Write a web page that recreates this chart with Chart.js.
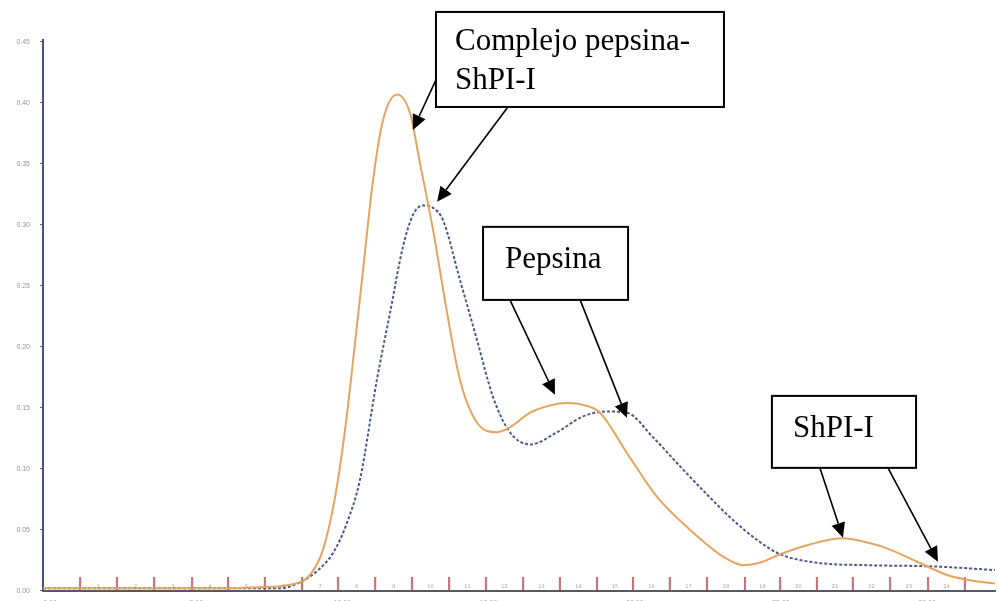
<!DOCTYPE html>
<html>
<head>
<meta charset="utf-8">
<script src="https://cdn.jsdelivr.net/npm/chart.js@4.4.1/dist/chart.umd.min.js"></script>
<style>
  html, body { margin: 0; padding: 0; background: #fff; overflow: hidden; }
  canvas { display: block; }
</style>
</head>
<body>
<canvas id="chartElu" width="999" height="605"></canvas>
<script>
// elution profile
const complexX = [-0.24, 5.13, 7.18, 8.21, 8.89, 9.34, 9.75, 10.09, 10.33, 10.67, 11.05, 11.39, 11.87, 12.31, 12.65, 13.10, 13.58, 14.02, 14.60, 15.29, 15.73, 16.42, 17.10, 17.68, 18.30, 18.81, 19.73, 20.76, 21.89, 23.02, 23.70, 24.28, 24.97, 25.99, 27.12, 27.87, 28.49, 29.65, 30.68, 31.63, 32.32];
const complexY = [0.002, 0.002, 0.003, 0.005, 0.013, 0.034, 0.077, 0.132, 0.181, 0.255, 0.337, 0.386, 0.407, 0.392, 0.351, 0.296, 0.228, 0.173, 0.138, 0.130, 0.134, 0.146, 0.152, 0.154, 0.152, 0.146, 0.113, 0.077, 0.050, 0.028, 0.021, 0.023, 0.030, 0.038, 0.043, 0.040, 0.036, 0.024, 0.013, 0.008, 0.006];

const pepsinX = [-0.24, 6.84, 7.87, 8.55, 9.17, 9.68, 10.16, 10.60, 11.18, 11.63, 12.07, 12.41, 12.76, 13.10, 13.44, 14.02, 14.60, 15.15, 15.73, 16.42, 17.34, 18.23, 19.05, 19.73, 20.62, 21.55, 22.47, 23.36, 24.28, 24.97, 26.23, 27.94, 30.20, 32.32];
const pepsinY = [0.002, 0.002, 0.002, 0.007, 0.017, 0.031, 0.056, 0.091, 0.173, 0.228, 0.282, 0.308, 0.316, 0.314, 0.304, 0.255, 0.206, 0.159, 0.130, 0.120, 0.130, 0.143, 0.147, 0.146, 0.126, 0.102, 0.079, 0.058, 0.040, 0.030, 0.023, 0.021, 0.020, 0.017];

// fraction collector marks along the baseline
const fractionX = [1.03, 2.29, 3.56, 4.86, 6.09, 7.35, 8.62, 9.85, 11.12, 12.38, 13.65, 14.91, 16.18, 17.44, 18.71, 19.94, 21.20, 22.47, 23.77, 24.97, 26.23, 27.46, 28.73, 30.03, 31.29];
const fractionLabels = ["1", "2", "3", "4", "5", "6", "7", "8", "9", "10", "11", "12", "13", "14", "15", "16", "17", "18", "19", "20", "21", "22", "23", "24", "25"];

const xTicks = [0, 5, 10, 15, 20, 25, 30];
const yTicks = [0, 0.05, 0.10, 0.15, 0.20, 0.25, 0.30, 0.35, 0.40, 0.45];

const pts = (xs, ys) => xs.map((x, i) => ({ x: x, y: ys[i] }));

// callout boxes and arrows, in data units
const callouts = [
  { box: [13.20, 0.4746, 23.05, 0.3967], lines: ["Complejo pepsina-", "ShPI-I"], tx: 13.85, ty: [0.4434, 0.4115],
    arrows: [[13.20, 0.4189, 12.41, 0.3779], [15.66, 0.3967, 13.24, 0.3189]] },
  { box: [14.81, 0.2984, 19.77, 0.2385], lines: ["Pepsina"], tx: 15.56, ty: [0.2648],
    arrows: [[15.73, 0.2385, 17.27, 0.1607], [18.13, 0.2385, 19.73, 0.1418]] },
  { box: [24.69, 0.1598, 29.62, 0.1008], lines: ["ShPI-I"], tx: 25.41, ty: [0.1262],
    arrows: [[26.33, 0.1008, 27.12, 0.0434], [28.66, 0.1008, 30.37, 0.0238]] },
];

function arrow(ctx, x1, y1, x2, y2) {
  const a = Math.atan2(y2 - y1, x2 - x1);
  const len = 15, half = 7;
  const bx = x2 - len * Math.cos(a), by = y2 - len * Math.sin(a);
  ctx.beginPath();
  ctx.moveTo(x1, y1);
  ctx.lineTo(bx, by);
  ctx.stroke();
  ctx.beginPath();
  ctx.moveTo(x2, y2);
  ctx.lineTo(bx + half * Math.sin(a), by - half * Math.cos(a));
  ctx.lineTo(bx - half * Math.sin(a), by + half * Math.cos(a));
  ctx.closePath();
  ctx.fill();
}

const fractionText = {
  id: "fractionText",
  afterDatasetsDraw(chart) {
    const { ctx, scales: { x, y } } = chart;
    ctx.save();
    ctx.font = "5px 'DejaVu Sans'";
    ctx.fillStyle = "rgba(150,110,110,0.7)";
    ctx.textAlign = "center";
    for (let i = 0; i < fractionX.length - 1; i++) {
      const mx = (x.getPixelForValue(fractionX[i]) + x.getPixelForValue(fractionX[i + 1])) / 2;
      ctx.fillText(fractionLabels[i], mx, y.getPixelForValue(0) - 3);
    }
    ctx.restore();
  }
};

const calloutPlugin = {
  id: "callouts",
  afterDraw(chart) {
    const { ctx, scales: { x, y } } = chart;
    ctx.save();
    ctx.strokeStyle = "#000";
    ctx.fillStyle = "#000";
    ctx.lineWidth = 1.6;
    callouts.forEach(c => {
      c.arrows.forEach(a => arrow(ctx, x.getPixelForValue(a[0]), y.getPixelForValue(a[1]),
        x.getPixelForValue(a[2]), y.getPixelForValue(a[3])));
    });
    callouts.forEach(c => {
      const l = x.getPixelForValue(c.box[0]), t = y.getPixelForValue(c.box[1]);
      const r = x.getPixelForValue(c.box[2]), b = y.getPixelForValue(c.box[3]);
      ctx.fillStyle = "#fff";
      ctx.fillRect(l, t, r - l, b - t);
      ctx.lineWidth = 2;
      ctx.strokeRect(l, t, r - l, b - t);
      ctx.fillStyle = "#000";
      ctx.font = "31px 'Liberation Serif'";
      ctx.textBaseline = "alphabetic";
      c.lines.forEach((s, i) => ctx.fillText(s, x.getPixelForValue(c.tx), y.getPixelForValue(c.ty[i])));
    });
    ctx.restore();
  }
};

const chartElu = new Chart("chartElu", {
  type: "line",
  data: {
    datasets: [
      {
        label: "Complejo pepsina-ShPI-I",
        data: pts(complexX, complexY),
        borderColor: "rgb(229, 164, 96)",
        borderWidth: 2,
        pointRadius: 0,
        cubicInterpolationMode: "monotone",
        fill: false,
        order: 1,
      },
      {
        label: "Pepsina",
        data: pts(pepsinX, pepsinY),
        borderColor: "rgb(78, 88, 135)",
        borderWidth: 2,
        borderDash: [3, 2],
        pointRadius: 0,
        cubicInterpolationMode: "monotone",
        fill: false,
        order: 2,
      },
      {
        type: "bar",
        label: "fracciones",
        data: fractionX.map(v => ({ x: v, y: 0.011 })),
        backgroundColor: "rgba(180, 70, 70, 0.75)",
        barThickness: 1.5,
        order: 3,
      },
    ],
  },
  options: {
    responsive: false,
    animation: false,
    layout: { padding: { top: 40, right: 4, left: 0, bottom: 0 } },
    plugins: {
      legend: { display: false },
      tooltip: { enabled: false },
    },
    scales: {
      x: {
        type: "linear",
        offset: false,
        min: -0.24,
        max: 32.32,
        afterBuildTicks: s => { s.ticks = xTicks.map(v => ({ value: v })); },
        afterFit: s => { s.height = 10; },
        grid: { display: false, offset: false },
        border: { display: true, color: "rgb(85, 88, 105)", width: 2 },
        ticks: {
          color: "rgb(140, 140, 140)",
          font: { size: 7 },
          padding: 0,
          maxRotation: 0,
          autoSkip: false,
          callback: v => v.toFixed(2),
        },
      },
      y: {
        min: 0,
        max: 0.4516,
        afterBuildTicks: s => { s.ticks = yTicks.map(v => ({ value: v })); },
        afterFit: s => { s.width = 43; },
        grid: { display: true, drawOnChartArea: false, drawTicks: true, tickLength: 3, color: "rgb(90, 96, 144)" },
        border: { display: true, color: "rgb(74, 80, 120)", width: 2 },
        ticks: {
          color: "rgb(150, 150, 150)",
          font: { size: 7 },
          padding: 10,
          callback: v => v.toFixed(2),
        },
      },
    },
  },
  plugins: [fractionText, calloutPlugin],
});
</script>
</body>
</html>
